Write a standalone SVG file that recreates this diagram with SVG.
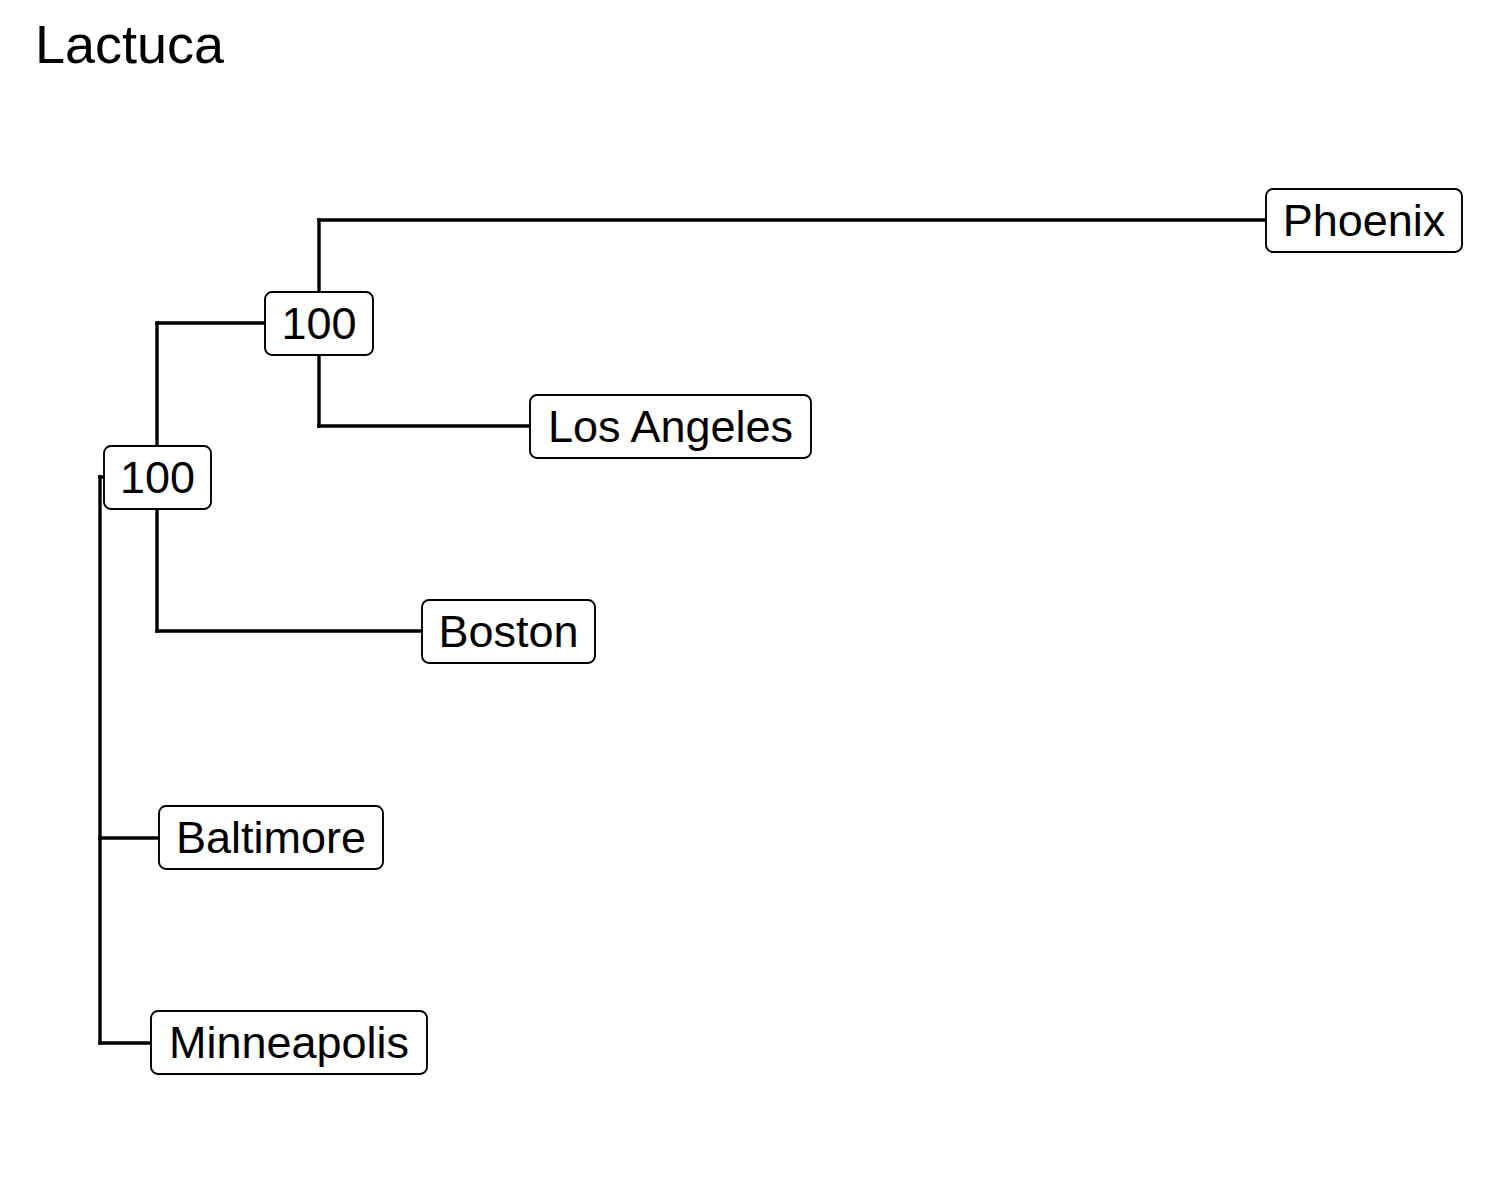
<svg xmlns="http://www.w3.org/2000/svg" width="1500" height="1200" viewBox="0 0 1500 1200">
  <style>
    .edge { fill: none; stroke: #000; stroke-width: 3.4; stroke-linecap: square; }
    .box { fill: #fff; stroke: #000; stroke-width: 1.9; }
    .lbl { font-family: "Liberation Sans", Arial, sans-serif; font-size: 45px; fill: #000; text-anchor: middle; }
    .title { font-family: "Liberation Sans", Arial, sans-serif; font-size: 54px; fill: #000; }
  </style>
  <rect width="1500" height="1200" fill="#fff"/>
  <text class="title" x="35" y="63">Lactuca</text>

  <!-- tree branches -->
  <g id="edges">
    <path class="edge" d="M100,477 V1043"/>
    <path class="edge" d="M100,477 H157"/>
    <path class="edge" d="M100,838 H159"/>
    <path class="edge" d="M100,1043 H151"/>
    <path class="edge" d="M157,323 V631"/>
    <path class="edge" d="M157,323 H319"/>
    <path class="edge" d="M157,631 H422"/>
    <path class="edge" d="M319,220 V426"/>
    <path class="edge" d="M319,220 H1266"/>
    <path class="edge" d="M319,426 H530"/>
  </g>

  <!-- labelled nodes -->
  <g id="phoenix">
    <rect class="box" x="1266" y="189" width="196" height="63" rx="7"/>
    <text class="lbl" x="1364" y="236">Phoenix</text>
  </g>
  <g id="los-angeles">
    <rect class="box" x="530" y="395" width="281" height="63" rx="7"/>
    <text class="lbl" x="670.5" y="442">Los Angeles</text>
  </g>
  <g id="boston">
    <rect class="box" x="422" y="600" width="173" height="63" rx="7"/>
    <text class="lbl" x="508.5" y="647">Boston</text>
  </g>
  <g id="baltimore">
    <rect class="box" x="159" y="806" width="224" height="63" rx="7"/>
    <text class="lbl" x="271" y="853">Baltimore</text>
  </g>
  <g id="minneapolis">
    <rect class="box" x="151" y="1011" width="276" height="63" rx="7"/>
    <text class="lbl" x="289" y="1058">Minneapolis</text>
  </g>
  <g id="support-inner">
    <rect class="box" x="265" y="292" width="108" height="63" rx="7"/>
    <text class="lbl" x="319" y="339">100</text>
  </g>
  <g id="support-outer">
    <rect class="box" x="104" y="446" width="107" height="63" rx="7"/>
    <text class="lbl" x="157.5" y="493">100</text>
  </g>
</svg>
